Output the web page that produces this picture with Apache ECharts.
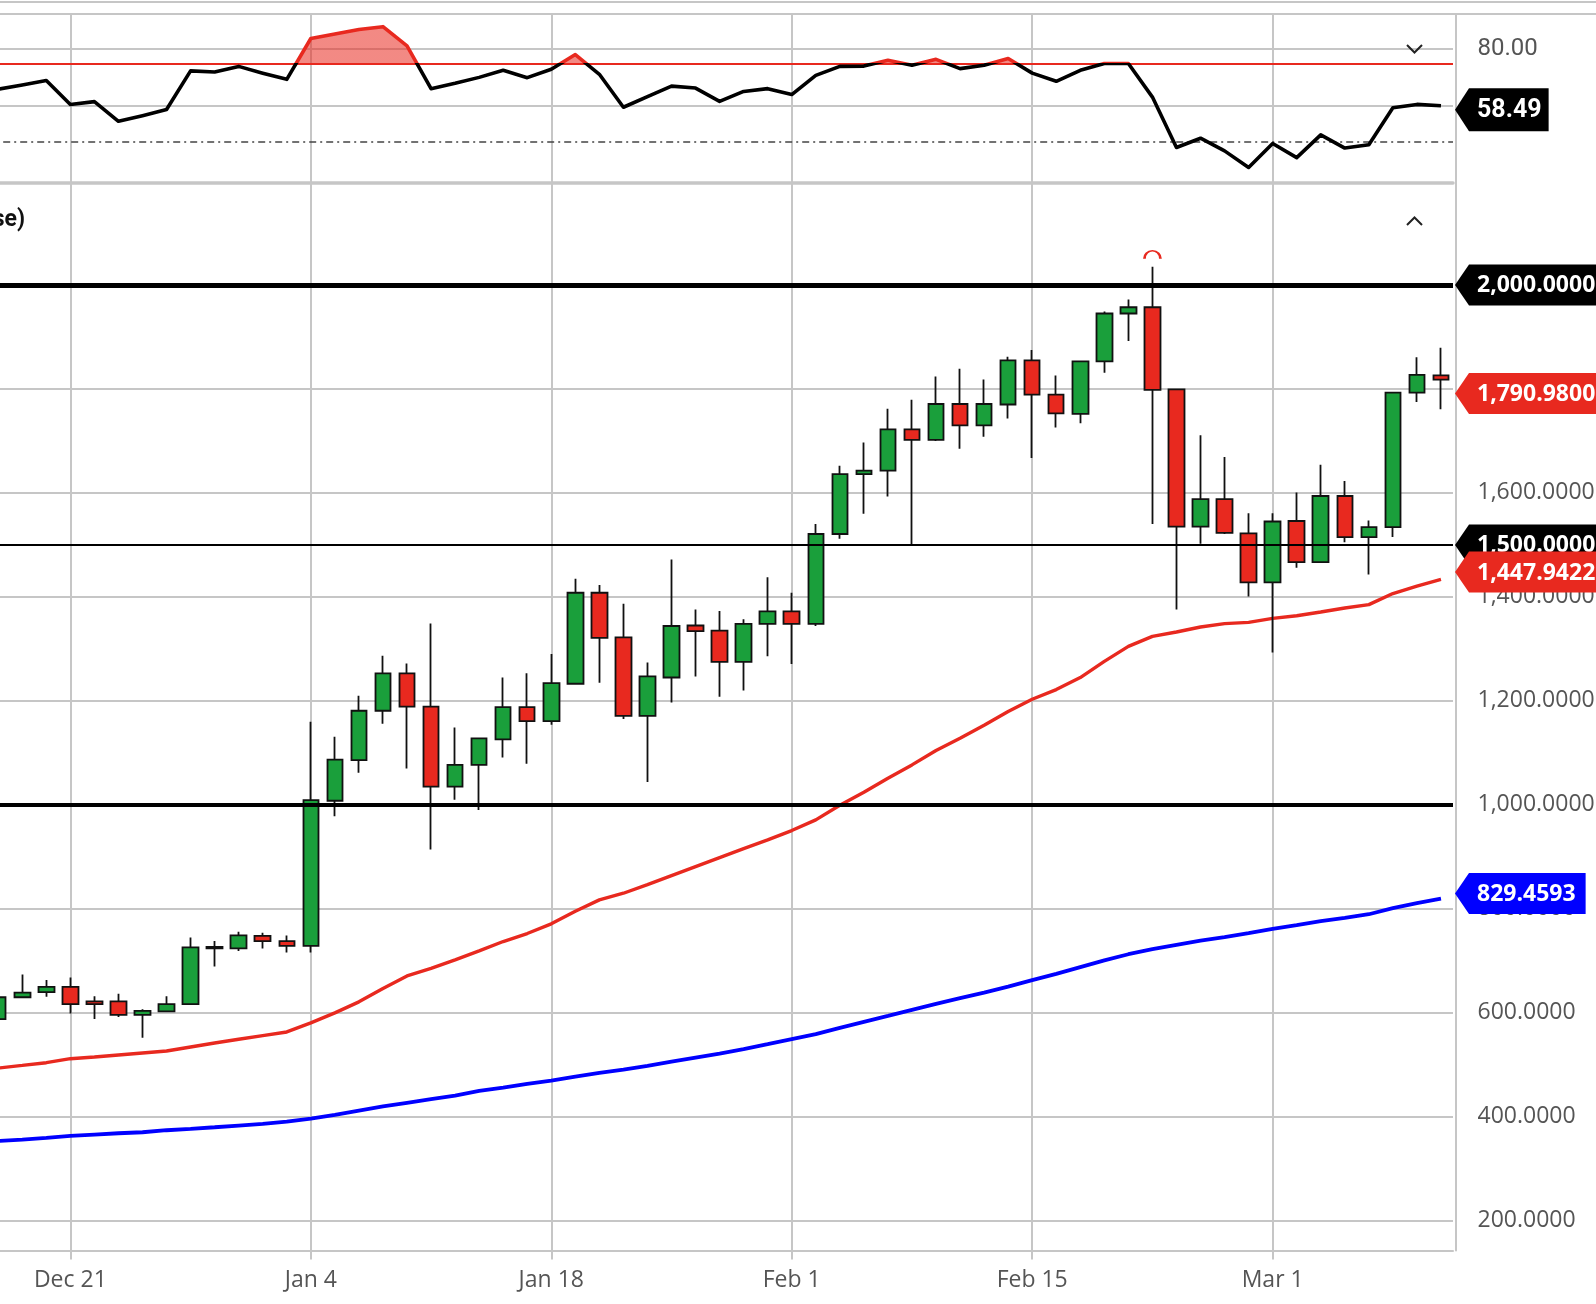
<!DOCTYPE html>
<html><head><meta charset="utf-8">
<script src="https://cdn.jsdelivr.net/npm/echarts@6/dist/echarts.min.js"></script>
<style>html,body{margin:0;padding:0;background:#fff;}#c{width:1596px;height:1304px;}#err{position:absolute;left:100px;top:300px;width:1200px;font:16px monospace;color:#c00;white-space:pre-wrap;z-index:99;}</style>
</head><body><div id="c"></div><div id="err"></div>
<script>
const categories = ['Dec 16','Dec 17','Dec 18','Dec 21','Dec 22','Dec 23','Dec 24','Dec 25','Dec 28','Dec 29','Dec 30','Dec 31','Jan 1',
'Jan 4','Jan 5','Jan 6','Jan 7','Jan 8','Jan 11','Jan 12','Jan 13','Jan 14','Jan 15','Jan 18','Jan 19','Jan 20','Jan 21','Jan 22',
'Jan 25','Jan 26','Jan 27','Jan 28','Jan 29','Feb 1','Feb 2','Feb 3','Feb 4','Feb 5','Feb 8','Feb 9','Feb 10','Feb 11','Feb 12',
'Feb 15','Feb 16','Feb 17','Feb 18','Feb 19','Feb 22','Feb 23','Feb 24','Feb 25','Feb 26','Mar 1','Mar 2','Mar 3','Mar 4','Mar 5',
'Mar 8','Mar 9','Mar 10'];
const tickLabels = ['Dec 21','Jan 4','Jan 18','Feb 1','Feb 15','Mar 1'];

const opens  = [588,630,640,650,622,622,596,603,617,724,724,748,738,729,1008,1086,1181,1253,1189,1035,1077,1126,1188,1161,1233,1408,1322,1171,1245,1345,1335,1275,1348,1372,1348,1521,1636,1643,1722,1702,1771,1730,1770,1855,1789,1752,1853,1945,1957,1799,1535,1588,1522,1428,1546,1467,1594,1515,1534,1793,1826];
const closes = [630,639,650,617,617,596,604,617,726,727,749,738,729,1009,1087,1181,1253,1189,1035,1077,1128,1188,1161,1234,1408,1321,1171,1247,1344,1334,1275,1348,1372,1348,1521,1636,1643,1722,1702,1771,1730,1771,1855,1789,1753,1853,1945,1957,1798,1535,1588,1523,1428,1545,1467,1594,1515,1534,1793,1827,1818];
const lows   = [585,628,631,599,588,592,552,602,615,689,719,724,716,716,978,1062,1156,1070,914,1010,990,1091,1079,1154,1231,1235,1165,1044,1197,1247,1208,1220,1286,1271,1344,1512,1560,1593,1499,1700,1685,1708,1743,1667,1726,1734,1831,1892,1540,1376,1502,1521,1401,1293,1456,1466,1505,1443,1515,1775,1761];
const highs  = [636,674,663,668,632,637,607,632,745,738,756,754,749,1160,1131,1210,1287,1272,1349,1149,1129,1245,1253,1290,1435,1423,1387,1274,1472,1376,1373,1357,1438,1408,1540,1652,1697,1762,1779,1824,1839,1818,1862,1875,1826,1854,1949,1972,2035,1800,1711,1669,1561,1561,1601,1654,1623,1547,1794,1861,1879];

const ma20 = [493.9,499.0,504.2,511.9,515.1,519.0,522.8,526.7,534.4,542.1,549.2,556.3,563.3,580.7,600.0,621.2,646.9,671.0,685.5,701.9,719.2,737.2,752.6,771.2,795.5,817.3,830.1,846.8,864.1,881.4,898.7,916.0,932.7,950.6,971.2,999.4,1024.4,1051.3,1076.9,1104.5,1128.2,1153.2,1179.5,1203.2,1221.8,1244.9,1276.0,1304.8,1324.1,1332.5,1342.1,1348.6,1351.1,1358.8,1363.8,1370.9,1378.6,1385.1,1406.5,1420.7,1433.7];
const ma50 = [353.7,356.3,359.5,363.3,366.0,368.5,370.4,374.3,376.8,380.0,383.3,386.5,391.0,396.8,403.9,412.2,420.0,427.0,434.0,441.0,450.0,456.4,463.5,469.9,477.6,484.6,491.0,498.1,506.4,514.1,521.8,530.1,539.7,549.4,559.0,571.2,582.7,594.2,605.8,617.3,628.2,639.1,650.6,663.0,675.0,688.0,701.0,712.8,722.4,730.8,739.1,745.5,753.2,761.5,768.6,776.3,782.7,789.7,801.3,810.9,819.9];
const osc = [65.8,67.3,68.9,60.4,61.4,54.4,56.4,58.6,72.3,71.9,73.9,71.5,69.3,83.8,85.4,87.0,88.0,81.2,66.0,67.9,70.0,72.5,69.9,72.9,78.1,71.1,59.4,63.2,66.9,66.2,61.5,65.0,66.0,63.9,70.7,73.9,74.0,76.1,74.3,76.4,73.1,74.3,76.7,71.5,68.6,72.5,74.9,74.9,63.0,45.1,48.4,43.9,38.0,46.5,41.5,49.6,44.9,46.1,59.2,60.4,59.9];

const priceTicks = [200,400,600,800,1000,1200,1400,1600,1800,2000];
const oscGridTicks = [80,60];
const oscLabelTicks = [80];
const oscOverbought = 75;
const oscSignal = 47.1;
const levelLines = [2000,1500,1000];
const priceTagValues = [2000,1790.98,1500,1447.9422,829.4593];
const priceTagKinds = ['level','last','level','ma20','ma50'];
const oscTagValue = 58.49;

const GREEN = '#1a9f3b', RED = '#e8291f', BLUE = '#0000ff', GRID = '#c6c6c6';
const kindColor = {level:'#000000', last:RED, ma20:RED, ma50:BLUE};
const fmt4 = v => Number(v).toLocaleString('en-US',{minimumFractionDigits:4,maximumFractionDigits:4});
const lastCat = categories[categories.length-1];

const mctx = document.createElement('canvas').getContext('2d');
function textW(t, font){ mctx.font = font; return mctx.measureText(t).width; }

const priceTags = priceTagValues.map((v,i)=>({value:v, text:fmt4(v), color:kindColor[priceTagKinds[i]]}));
const oscTags = [{value:oscTagValue, text:oscTagValue.toFixed(2), color:'#000'}];

function makeTagRenderer(list, font, h, textOffset, padRight){
  return function(params, api){
    const t = list[params.dataIndex];
    const p = api.coord([api.value(0), api.value(1)]);
    const half = api.size([1,0])[0]/2;
    const x0 = p[0] + half + 2, y = p[1];
    const w = textW(t.text, font);
    const x1 = x0 + 14, x2 = x0 + textOffset + w + padRight;
    return {type:'group', children:[
      {type:'polygon', shape:{points:[[x0,y],[x1,y-h/2],[x2,y-h/2],[x2,y+h/2],[x1,y+h/2]]}, style:{fill:t.color}},
      {type:'text', style:{text:t.text, x:x0+textOffset, y:y+1, font:font, fill:'#fff', align:'left', verticalAlign:'middle'}}
    ]};
  };
}

const isTick = (idx, val) => tickLabels.indexOf(val) >= 0;
const nulls = categories.map(()=>null);
let iMax = 0; highs.forEach((h,i)=>{ if (h > highs[iMax]) iMax = i; });

function splitGradient(yPix, above, below){
  return {type:'linear', x:0, y:yPix-0.5, x2:0, y2:yPix+0.5, global:true,
    colorStops:[{offset:0,color:above},{offset:0.5,color:above},{offset:0.5,color:below},{offset:1,color:below}]};
}

const errBox = document.getElementById('err');
try {
const chart = echarts.init(document.getElementById('c'), null, {renderer:'canvas'});
const option = {
  animation:false,
  backgroundColor:'#fff',
  grid:[
    {left:-13.8, right:143, top:14, height:169, containLabel:false, outerBoundsMode:'none'},
    {left:-13.8, right:143, top:183, bottom:53.5, containLabel:false, outerBoundsMode:'none'}
  ],
  xAxis:[
    {type:'category', gridIndex:0, data:categories, boundaryGap:true,
     axisLine:{show:true, lineStyle:{color:GRID, width:3.5}}, axisTick:{show:false}, axisLabel:{show:false}, splitLine:{show:false}},
    {type:'category', gridIndex:1, data:categories, boundaryGap:true,
     axisLine:{show:true, lineStyle:{color:GRID, width:2}},
     axisTick:{show:true, alignWithLabel:true, interval:isTick, length:9, lineStyle:{color:GRID, width:2}},
     axisLabel:{interval:isTick, color:'#555', fontFamily:'Open Sans', fontSize:23, margin:18},
     splitLine:{show:false}}
  ],
  yAxis:[
    {type:'value', gridIndex:0, position:'right', offset:2.5, min:32.5, max:92.5,
     axisLine:{show:true, lineStyle:{color:GRID, width:2}}, axisTick:{show:false}, splitLine:{show:false},
     axisLabel:{customValues:oscLabelTicks, formatter:v=>Number(v).toFixed(2), color:'#555', fontFamily:'Roboto', fontSize:24, margin:22}},
    {type:'value', gridIndex:1, position:'right', offset:2.5, min:143, max:2196,
     axisLine:{show:true, lineStyle:{color:GRID, width:2}}, axisTick:{show:false}, splitLine:{show:false},
     axisLabel:{customValues:priceTicks, formatter:fmt4, color:'#555', fontFamily:'Open Sans', fontSize:23, margin:22}}
  ],
  series:[
    {id:'oscGrid', type:'line', xAxisIndex:0, yAxisIndex:0, data:nulls, symbol:'none', silent:true, z:1,
     markLine:{silent:true, symbol:'none', z:1, animation:false, label:{show:false},
       lineStyle:{color:GRID, width:2, type:'solid'},
       data:[...tickLabels.map(d=>({xAxis:d})), ...oscGridTicks.map(v=>({yAxis:v}))]}},
    {id:'oscLevels', type:'line', xAxisIndex:0, yAxisIndex:0, data:nulls, symbol:'none', silent:true, z:2,
     markLine:{silent:true, symbol:'none', z:2, animation:false, label:{show:false},
       data:[{yAxis:oscOverbought, lineStyle:{color:RED, width:2, type:'solid'}},
             {yAxis:oscSignal, lineStyle:{color:'#444', width:1.6, type:[7,4,2,4]}}]}},
    {id:'oscLine', type:'line', xAxisIndex:0, yAxisIndex:0, data:osc, symbol:'none', showSymbol:false, silent:true, z:4,
     lineStyle:{width:3.6, color:'#000', join:'round'},
     areaStyle:{origin:oscOverbought, color:'rgba(0,0,0,0)', opacity:1}},
    {id:'oscTag', type:'custom', xAxisIndex:0, yAxisIndex:0, clip:false, silent:true, z:10,
     data:oscTags.map(t=>[lastCat, t.value]),
     renderItem:makeTagRenderer(oscTags, 'bold 25px Roboto', 43, 22, 7)},

    {id:'mainGrid', type:'line', xAxisIndex:1, yAxisIndex:1, data:nulls, symbol:'none', silent:true, z:1,
     markLine:{silent:true, symbol:'none', z:1, animation:false, label:{show:false},
       lineStyle:{color:GRID, width:2, type:'solid'},
       data:[...tickLabels.map(d=>({xAxis:d})), ...priceTicks.map(v=>({yAxis:v}))]}},
    {id:'ma50', type:'line', xAxisIndex:1, yAxisIndex:1, data:ma50, symbol:'none', showSymbol:false, silent:true, z:2,
     lineStyle:{color:BLUE, width:3.8}},
    {id:'ma20', type:'line', xAxisIndex:1, yAxisIndex:1, data:ma20, symbol:'none', showSymbol:false, silent:true, z:2,
     lineStyle:{color:RED, width:3.4}},
    {id:'candles', type:'candlestick', xAxisIndex:1, yAxisIndex:1, barWidth:16, silent:true, z:3,
     data:categories.map((_,i)=>[opens[i],closes[i],lows[i],highs[i]]),
     itemStyle:{color:GREEN, color0:RED, borderColor:'#111', borderColor0:'#111', borderWidth:1.8},
     markPoint:{silent:true, animation:false, z:6,
       data:[{coord:[categories[iMax], highs[iMax]], symbol:'path://M0,10 A10,10 0 0 1 20,10', symbolSize:[16,8], symbolOffset:[0,-12],
              itemStyle:{color:'rgba(0,0,0,0)', borderColor:RED, borderWidth:2}, label:{show:false}}]}},
    {id:'levels', type:'line', xAxisIndex:1, yAxisIndex:1, data:nulls, symbol:'none', silent:true, z:5,
     markLine:{silent:true, symbol:'none', z:5, animation:false, label:{show:false},
       data:levelLines.map(v=>({yAxis:v, lineStyle:{color:'#000', type:'solid', width: v===1500 ? 1.8 : (v===2000 ? 5 : 4)}}))}},
    {id:'priceTags', type:'custom', xAxisIndex:1, yAxisIndex:1, clip:false, silent:true, z:10,
     data:priceTags.map(t=>[lastCat, t.value]),
     renderItem:makeTagRenderer(priceTags, 'bold 23px "Open Sans"', 41, 22, 10)}
  ],
  graphic:[
    {type:'line', silent:true, z:100, shape:{x1:0, y1:2, x2:1596, y2:2}, style:{stroke:GRID, lineWidth:2}},
    {type:'line', silent:true, z:100, shape:{x1:0, y1:14, x2:1596, y2:14}, style:{stroke:GRID, lineWidth:2}},
    {type:'polyline', silent:true, z:100, shape:{points:[[1407,45],[1414.5,52.5],[1422,45]]}, style:{stroke:'#222', lineWidth:2, fill:null}},
    {type:'polyline', silent:true, z:100, shape:{points:[[1407,225],[1414.5,217.5],[1422,225]]}, style:{stroke:'#222', lineWidth:2, fill:null}},
    {type:'text', silent:true, z:100, style:{text:'Moving Average (Close)', x:25, y:220, align:'right', verticalAlign:'middle', font:'bold 23px Roboto', fill:'#111'}}
  ]
};
chart.setOption(option);
const y75 = chart.convertToPixel({yAxisIndex:0}, oscOverbought);
chart.setOption({series:[{id:'oscLine',
  lineStyle:{width:3.6, join:'round', color:splitGradient(y75, RED, '#000')},
  areaStyle:{origin:oscOverbought, opacity:1, color:splitGradient(y75, 'rgba(232,41,31,0.55)', 'rgba(255,255,255,0)')}}]});
} catch(e) { errBox.textContent = String(e && e.stack || e); }
</script>
</body></html>
